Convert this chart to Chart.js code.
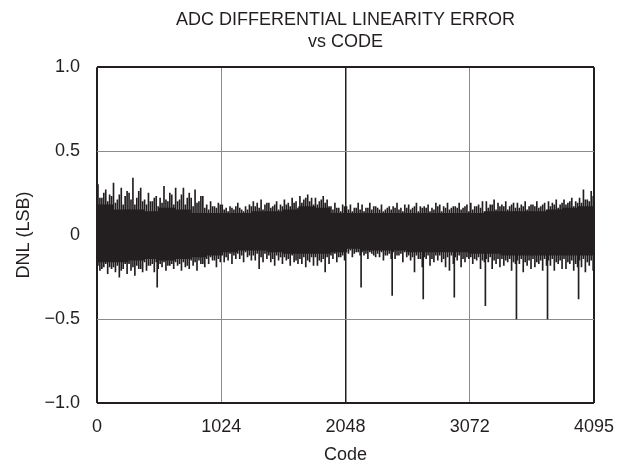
<!DOCTYPE html>
<html>
<head>
<meta charset="utf-8">
<title>ADC DNL vs Code</title>
<script src="https://cdn.jsdelivr.net/npm/chart.js@4/dist/chart.umd.min.js"></script>
<style>
    html, body { margin: 0; padding: 0; background: #ffffff; }
    #wrap { width: 622px; height: 466px; }
</style>
</head>
<body>
<div id="wrap"><canvas id="dnlChart" width="622" height="466"></canvas></div>
<script>
// --- Data ---
const titleLines = ['ADC DIFFERENTIAL LINEARITY ERROR', 'vs CODE'];
const xTickValues = [0, 1024, 2048, 3072, 4095];
const xTickLabels = ['0', '1024', '2048', '3072', '4095'];
const yTickValues = [-1, -0.5, 0, 0.5, 1];
const yTickLabels = ['\u22121.0', '\u22120.5', '0', '0.5', '1.0'];

// solid core of the band, one pair per 128-code bin
const binSize = 128;
const coreHi = [0.18, 0.15, 0.15, 0.14, 0.16, 0.15, 0.13, 0.13,
                0.13, 0.13, 0.14, 0.14, 0.15, 0.17, 0.16, 0.13,
                0.13, 0.13, 0.13, 0.13, 0.13, 0.13, 0.13, 0.13,
                0.13, 0.14, 0.14, 0.14, 0.14, 0.15, 0.16, 0.17];
const coreLo = [-0.16, -0.16, -0.15, -0.14, -0.15, -0.14, -0.13, -0.12,
                -0.10, -0.09, -0.09, -0.10, -0.11, -0.11, -0.11, -0.10,
                -0.08, -0.09, -0.09, -0.09, -0.10, -0.10, -0.10, -0.10,
                -0.11, -0.11, -0.12, -0.12, -0.12, -0.12, -0.12, -0.12];

// fringe spikes, one per 32 codes on each layer
const spikeStep = 32;
const upTips = [
    0.30, 0.22, 0.27, 0.24,  0.31, 0.21, 0.28, 0.23,  0.25, 0.34, 0.22, 0.28,  0.21, 0.25, 0.20, 0.23,
    0.22, 0.29, 0.20, 0.24,  0.28, 0.21, 0.28, 0.22,  0.22, 0.27, 0.20, 0.23,  0.18, 0.20, 0.17, 0.19,
    0.18, 0.16, 0.17, 0.15,  0.19, 0.15, 0.17, 0.18,  0.20, 0.19, 0.21, 0.18,  0.19, 0.17, 0.20, 0.18,
    0.21, 0.19, 0.22, 0.20,  0.23, 0.21, 0.24, 0.22,  0.22, 0.20, 0.23, 0.21,  0.17, 0.19, 0.16, 0.18,
    0.17, 0.18, 0.16, 0.19,  0.18, 0.16, 0.19, 0.17,  0.16, 0.18, 0.15, 0.17,  0.17, 0.19, 0.16, 0.18,
    0.18, 0.16, 0.19, 0.17,  0.17, 0.18, 0.16, 0.19,  0.18, 0.17, 0.19, 0.16,  0.17, 0.19, 0.16, 0.18,
    0.19, 0.17, 0.18, 0.20,  0.20, 0.18, 0.21, 0.19,  0.18, 0.20, 0.17, 0.19,  0.19, 0.18, 0.20, 0.17,
    0.18, 0.20, 0.17, 0.19,  0.20, 0.19, 0.21, 0.18,  0.21, 0.19, 0.22, 0.20,  0.22, 0.27, 0.21, 0.26
];
const upMid = [
    0.22, 0.25, 0.20, 0.23,  0.19, 0.24, 0.18, 0.26,  0.21, 0.18, 0.26, 0.20,  0.18, 0.20, 0.22, 0.17,
    0.19, 0.21, 0.25, 0.18,  0.20, 0.24, 0.18, 0.25,  0.17, 0.19, 0.23, 0.16,  0.15, 0.17, 0.16, 0.18,
    0.15, 0.14, 0.16, 0.17,  0.16, 0.14, 0.15, 0.17,  0.17, 0.16, 0.15, 0.19,  0.16, 0.18, 0.15, 0.17,
    0.18, 0.17, 0.19, 0.16,  0.19, 0.22, 0.20, 0.18,  0.18, 0.21, 0.19, 0.17,  0.15, 0.16, 0.14, 0.17,
    0.15, 0.14, 0.16, 0.15,  0.14, 0.16, 0.15, 0.17,  0.15, 0.14, 0.16, 0.15,  0.16, 0.15, 0.14, 0.16,
    0.15, 0.17, 0.14, 0.16,  0.16, 0.14, 0.15, 0.17,  0.14, 0.16, 0.15, 0.17,  0.16, 0.15, 0.17, 0.14,
    0.15, 0.17, 0.16, 0.14,  0.16, 0.18, 0.15, 0.17,  0.17, 0.15, 0.18, 0.16,  0.16, 0.17, 0.15, 0.18,
    0.17, 0.16, 0.18, 0.15,  0.17, 0.18, 0.16, 0.19,  0.18, 0.20, 0.17, 0.19,  0.19, 0.21, 0.20, 0.23
];
const lowTips = [
    -0.21, -0.19, -0.23, -0.20,  -0.22, -0.25, -0.20, -0.23,  -0.21, -0.24, -0.20, -0.22,  -0.21, -0.18, -0.22, -0.20,
    -0.19, -0.21, -0.18, -0.20,  -0.18, -0.21, -0.19, -0.20,  -0.18, -0.21, -0.17, -0.19,  -0.17, -0.15, -0.19, -0.16,
    -0.16, -0.15, -0.17, -0.14,  -0.14, -0.16, -0.13, -0.15,  -0.15, -0.20, -0.16, -0.14,  -0.16, -0.18, -0.15, -0.17,
    -0.15, -0.18, -0.16, -0.17,  -0.17, -0.19, -0.16, -0.18,  -0.18, -0.16, -0.22, -0.17,  -0.14, -0.16, -0.13, -0.15,
    -0.11, -0.13, -0.10, -0.12,  -0.12, -0.14, -0.11, -0.13,  -0.13, -0.15, -0.12, -0.14,  -0.14, -0.12, -0.16, -0.13,
    -0.15, -0.22, -0.14, -0.19,  -0.14, -0.18, -0.16, -0.15,  -0.16, -0.19, -0.21, -0.17,  -0.15, -0.19, -0.16, -0.14,
    -0.17, -0.15, -0.20, -0.16,  -0.16, -0.20, -0.17, -0.19,  -0.18, -0.16, -0.21, -0.17,  -0.17, -0.22, -0.18, -0.20,
    -0.19, -0.17, -0.21, -0.18,  -0.18, -0.21, -0.17, -0.20,  -0.20, -0.17, -0.21, -0.19,  -0.19, -0.22, -0.18, -0.21
];
const lowMid = [
    -0.18, -0.20, -0.17, -0.19,  -0.19, -0.18, -0.21, -0.17,  -0.17, -0.19, -0.18, -0.20,  -0.16, -0.18, -0.17, -0.16,
    -0.17, -0.16, -0.18, -0.17,  -0.16, -0.17, -0.16, -0.18,  -0.15, -0.16, -0.15, -0.17,  -0.14, -0.13, -0.15, -0.14,
    -0.12, -0.13, -0.11, -0.12,  -0.11, -0.12, -0.10, -0.12,  -0.12, -0.11, -0.13, -0.11,  -0.12, -0.14, -0.12, -0.13,
    -0.13, -0.14, -0.12, -0.15,  -0.14, -0.13, -0.15, -0.13,  -0.13, -0.15, -0.14, -0.13,  -0.12, -0.11, -0.13, -0.12,
    -0.10, -0.09, -0.11, -0.10,  -0.10, -0.11, -0.10, -0.12,  -0.11, -0.10, -0.12, -0.11,  -0.10, -0.12, -0.11, -0.10,
    -0.12, -0.13, -0.12, -0.14,  -0.13, -0.12, -0.14, -0.12,  -0.12, -0.14, -0.13, -0.12,  -0.13, -0.12, -0.14, -0.13,
    -0.13, -0.14, -0.13, -0.15,  -0.14, -0.13, -0.15, -0.14,  -0.14, -0.15, -0.14, -0.16,  -0.15, -0.14, -0.16, -0.15,
    -0.14, -0.16, -0.15, -0.14,  -0.15, -0.14, -0.16, -0.15,  -0.14, -0.16, -0.15, -0.17,  -0.15, -0.14, -0.16, -0.15
];

// isolated long negative codes
const outlierCodes = [496, 2176, 2432, 2688, 2944, 3200, 3456, 3712, 3968];
const outlierDnl = [-0.31, -0.31, -0.36, -0.38, -0.37, -0.42, -0.50, -0.50, -0.38];

// --- Style ---
const INK = '#231f20';
const GRID = '#8c8c8c';
Chart.defaults.font.family = "'Liberation Sans', Arial, Helvetica, sans-serif";
Chart.defaults.font.size = 18;
Chart.defaults.color = INK;

const coreData = coreHi.map((hi, i) => ({ x: i * binSize + binSize / 2, y: [coreLo[i], hi] }));
const upTipData = upTips.map((v, i) => ({ x: i * spikeStep + 8, y: v }));
const upMidData = upMid.map((v, i) => ({ x: i * spikeStep + 24, y: v }));
const lowTipData = lowTips.map((v, i) => ({ x: i * spikeStep + 24, y: v }));
const lowMidData = lowMid.map((v, i) => ({ x: i * spikeStep + 8, y: v }));
const outlierData = outlierCodes.map((c, i) => ({ x: c, y: outlierDnl[i] }));

const barStyle = {
    backgroundColor: INK,
    borderWidth: 0,
    grouped: false,
    barThickness: 1
};

new Chart(document.getElementById('dnlChart'), {
    type: 'bar',
    data: {
        datasets: [
            { ...barStyle, label: 'core', data: coreData, barThickness: 16 },
            { ...barStyle, label: 'up tips', data: upTipData },
            { ...barStyle, label: 'up mid', data: upMidData },
            { ...barStyle, label: 'low tips', data: lowTipData },
            { ...barStyle, label: 'low mid', data: lowMidData },
            { ...barStyle, label: 'outliers', data: outlierData }
        ]
    },
    options: {
        responsive: false,
        animation: false,
        layout: { padding: { left: 0, right: 28, top: 0, bottom: 0 } },
        plugins: {
            legend: { display: false },
            tooltip: { enabled: false },
            title: {
                display: true,
                text: titleLines,
                fullSize: false,
                color: INK,
                font: { size: 18, weight: 'normal', lineHeight: 1.24 },
                padding: { top: 8.5, bottom: 14 }
            }
        },
        scales: {
            x: {
                type: 'linear',
                min: 0,
                max: 4095,
                offset: false,
                afterFit: (s) => { s.height = 63; s.paddingLeft = 0; s.paddingRight = 0; },
                afterBuildTicks: (s) => { s.ticks = xTickValues.map(v => ({ value: v })); },
                grid: {
                    offset: false,
                    drawTicks: false,
                    color: (ctx) => (ctx.tick && [0, 2048, 4095].includes(ctx.tick.value)) ? INK : GRID,
                    lineWidth: (ctx) => (ctx.tick && [0, 4095].includes(ctx.tick.value)) ? 2 : (ctx.tick && ctx.tick.value === 2048 ? 1.5 : 1)
                },
                border: { display: false },
                ticks: {
                    autoSkip: false,
                    maxRotation: 0,
                    padding: 13,
                    color: INK,
                    callback: (v, i) => xTickLabels[i]
                },
                title: { display: true, text: 'Code', color: INK, padding: { top: 0, bottom: 0 } }
            },
            y: {
                min: -1,
                max: 1,
                afterFit: (s) => { s.width = 97; },
                afterBuildTicks: (s) => { s.ticks = yTickValues.map(v => ({ value: v })); },
                grid: {
                    drawTicks: false,
                    color: (ctx) => (ctx.tick && Math.abs(ctx.tick.value) === 1) ? INK : GRID,
                    lineWidth: (ctx) => (ctx.tick && Math.abs(ctx.tick.value) === 1) ? 2 : 1
                },
                border: { display: false },
                ticks: {
                    autoSkip: false,
                    padding: 17,
                    color: INK,
                    callback: (v, i) => yTickLabels[i]
                },
                title: { display: true, text: 'DNL (LSB)', color: INK, padding: { top: 13, bottom: 0 } }
            }
        }
    }
});
</script>
</body>
</html>
